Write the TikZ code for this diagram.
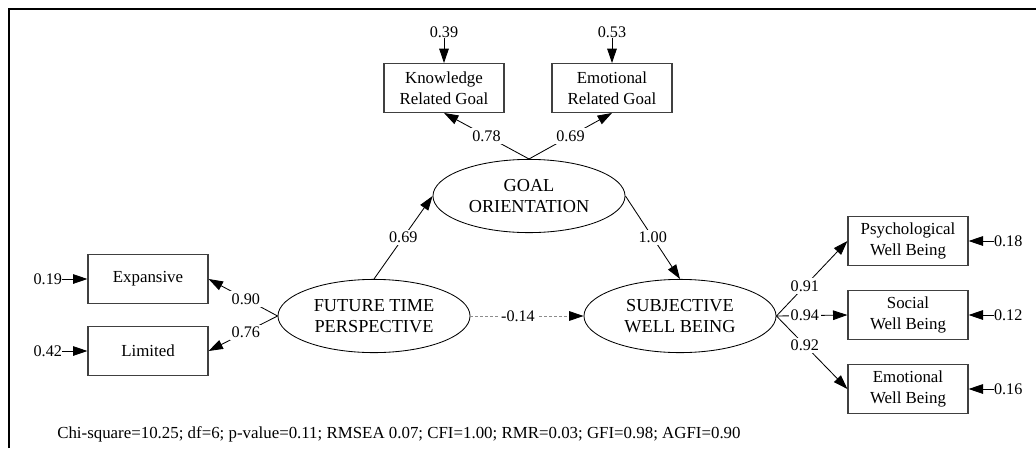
\documentclass[tikz,border=0pt]{standalone}
\usepackage{fontspec}
\setmainfont{Liberation Serif}
\usetikzlibrary{arrows.meta,positioning,shapes.geometric}
\tikzset{
  box/.style={
    draw=black!75,
    line width=0.8pt,
    align=center,
    minimum width=30mm,
    minimum height=12.2mm,
    inner sep=2pt,
    font=\fontsize{12}{15}\selectfont
  },
  latent/.style={
    draw,
    ellipse,
    line width=0.6pt,
    align=center,
    minimum width=48mm,
    minimum height=18.3mm,
    inner sep=0pt,
    font=\fontsize{13}{15}\selectfont
  },
  coef/.style={
    fill=white,
    inner sep=1.5pt,
    font=\fontsize{11.5}{13}\selectfont
  },
  err/.style={
    inner sep=0pt,
    font=\fontsize{11.5}{13}\selectfont
  },
  arrow/.style={-{Triangle[length=3.6mm, width=2.4mm]}, line width=0.6pt},
  dashedarrow/.style={-{Triangle[length=3.6mm, width=2.4mm, color=black]},
    line width=0.6pt, draw=black!45, dash pattern=on 2pt off 1.5pt},
  frame/.style={line width=1.7pt}
}

\begin{document}
\begin{tikzpicture}[x=0.025cm, y=-0.025cm, node distance=6.3mm]

\useasboundingbox (0,0) rectangle (1036,448);
\draw[frame] (9,448) -- (9,9) -- (1036,9);

% --- latent variables ---
\node[latent] (go) at (529,196) {GOAL\\ORIENTATION};
\node[latent] (ftp) at (374,316) {FUTURE TIME\\PERSPECTIVE};
\node[latent] (swb) at (680,316) {SUBJECTIVE\\WELL BEING};

% --- indicators ---
\node[box] (know) at (444,88) {Knowledge\\Related Goal};
\node[box] (emo) at (612,88) {Emotional\\Related Goal};
\node[box] (exp) at (148,279) {Expansive};
\node[box] (lim) at (148,351) {Limited};
\node[box] (psy) at (908,241) {Psychological\\Well Being};
\node[box] (soc) at (908,315) {Social\\Well Being};
\node[box] (emw) at (908,389) {Emotional\\Well Being};

% --- error terms ---
\node[err, above=of know] (eknow) {0.39};
\node[err, above=of emo] (eemo) {0.53};
\node[err, left=of exp] (eexp) {0.19};
\node[err, left=of lim] (elim) {0.42};
\node[err, right=of psy] (epsy) {0.18};
\node[err, right=of soc] (esoc) {0.12};
\node[err, right=of emw] (eemw) {0.16};

\draw[arrow] (eknow) -- (know);
\draw[arrow] (eemo) -- (emo);
\draw[arrow] (eexp) -- (exp);
\draw[arrow] (elim) -- (lim);
\draw[arrow] (epsy) -- (psy);
\draw[arrow] (esoc) -- (soc);
\draw[arrow] (eemw) -- (emw);

% --- loadings and paths ---
\draw[arrow] (go.north) -- node[coef] {0.78} (know.south);
\draw[arrow] (go.north) -- node[coef] {0.69} (emo.south);
\draw[arrow] (ftp.west) -- node[coef, pos=0.46] {0.90} (exp.east);
\draw[arrow] (ftp.west) -- node[coef, pos=0.46] {0.76} (lim.east);
\draw[arrow] (ftp.north) -- node[coef] {0.69} (go.west);
\draw[arrow] (go.east) -- node[coef] {1.00} (swb.north);
\draw[dashedarrow] (ftp.east) -- node[coef, pos=0.42] {-0.14} (swb.west);
\foreach \b/\v in {psy/0.91, soc/0.94, emw/0.92}
  \draw[arrow] (swb.east) -- node[coef, pos=0.4] {\v} (\b.west);

% fit indices
\node[anchor=base west, inner sep=0pt, font=\fontsize{12}{14}\selectfont] (fit) at (57,438)
  {Chi-square=10.25; df=6; p-value=0.11; RMSEA 0.07; CFI=1.00; RMR=0.03; GFI=0.98; AGFI=0.90};

\end{tikzpicture}
\end{document}
